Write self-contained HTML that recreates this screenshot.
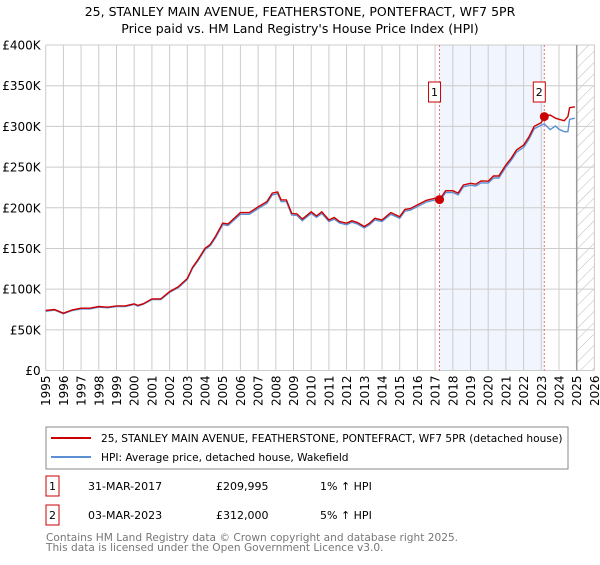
<!DOCTYPE html>
<html><head><meta charset="utf-8"><style>
body{margin:0;background:#fff;font-family:"Liberation Sans","DejaVu Sans",sans-serif;}
svg text{font-family:"DejaVu Sans","Liberation Sans",sans-serif;}
</style></head><body>
<svg id="c" width="600" height="560" viewBox="0 0 600 560" xmlns="http://www.w3.org/2000/svg">
<text x="300" y="16" text-anchor="middle" font-size="12.5" fill="#000">25, STANLEY MAIN AVENUE, FEATHERSTONE, PONTEFRACT, WF7 5PR</text>
<text x="300" y="33" text-anchor="middle" font-size="12.5" fill="#000">Price paid vs. HM Land Registry's House Price Index (HPI)</text>
<defs><pattern id="hatch" width="8" height="8" patternUnits="userSpaceOnUse" patternTransform="rotate(45)"><line x1="0" y1="0" x2="0" y2="8" stroke="#bbb" stroke-width="1"/></pattern></defs>
<g id="grid"></g>
<g id="marks"></g>
<g id="axes"></g>
<rect x="46" y="427" width="522" height="42" fill="#fff" stroke="#888"/>
<line x1="51" y1="438" x2="91" y2="438" stroke="#cc0000" stroke-width="2"/>
<text x="101" y="442" font-size="10.6">25, STANLEY MAIN AVENUE, FEATHERSTONE, PONTEFRACT, WF7 5PR (detached house)</text>
<line x1="51" y1="457" x2="91" y2="457" stroke="#5b8fd4" stroke-width="2"/>
<text x="101" y="461" font-size="10.6">HPI: Average price, detached house, Wakefield</text>
<rect x="46" y="476" width="13" height="20" fill="#fff" stroke="#cc0000"/>
<text x="52.5" y="490" font-size="11" text-anchor="middle">1</text>
<text x="88" y="490" font-size="11">31-MAR-2017</text>
<text x="216" y="490" font-size="11">£209,995</text>
<text x="320" y="490" font-size="11">1% ↑ HPI</text>
<rect x="46" y="505" width="13" height="20" fill="#fff" stroke="#cc0000"/>
<text x="52.5" y="519" font-size="11" text-anchor="middle">2</text>
<text x="88" y="519" font-size="11">03-MAR-2023</text>
<text x="216" y="519" font-size="11">£312,000</text>
<text x="320" y="519" font-size="11">5% ↑ HPI</text>
<text x="46" y="541" font-size="10.6" fill="#777">Contains HM Land Registry data © Crown copyright and database right 2025.</text>
<text x="46" y="551" font-size="10.6" fill="#777">This data is licensed under the Open Government Licence v3.0.</text>
</svg>
<script>
const years=[1995,1996,1997,1998,1999,2000,2001,2002,2003,2004,2005,2006,2007,2008,2009,2010,2011,2012,2013,2014,2015,2016,2017,2018,2019,2020,2021,2022,2023,2024,2025,2026];
const yTicks=[0,50000,100000,150000,200000,250000,300000,350000,400000];
const yTickLabels=["£0","£50K","£100K","£150K","£200K","£250K","£300K","£350K","£400K"];
const dates=[1995.0,1995.5,1996.0,1996.5,1997.0,1997.5,1998.0,1998.5,1999.0,1999.5,2000.0,2000.2,2000.5,2001.0,2001.5,2002.0,2002.5,2003.0,2003.3,2003.6,2004.0,2004.3,2004.6,2005.0,2005.3,2005.6,2006.0,2006.5,2007.0,2007.5,2007.8,2008.1,2008.3,2008.6,2008.9,2009.2,2009.5,2010.0,2010.3,2010.6,2011.0,2011.3,2011.6,2012.0,2012.3,2012.6,2013.0,2013.3,2013.6,2014.0,2014.5,2015.0,2015.3,2015.6,2016.0,2016.5,2017.0,2017.25,2017.6,2018.0,2018.3,2018.6,2019.0,2019.3,2019.6,2020.0,2020.3,2020.6,2021.0,2021.3,2021.6,2022.0,2022.3,2022.6,2023.0,2023.17,2023.5,2023.8,2024.0,2024.3,2024.5,2024.6,2024.9];
const propertyValues=[73700,75000,70400,74500,76500,76500,78600,77800,79400,79400,82000,80000,82000,88000,88000,97000,103000,113000,127000,136000,150000,155000,165000,181000,180000,186000,194000,194000,201000,207600,218000,219500,209600,209600,193000,192400,186000,195000,190000,195000,185000,188000,183000,181000,184000,182000,177000,181000,187000,185000,194000,189000,198000,199000,203500,209000,211700,210000,221000,221000,218000,228000,230000,229000,233000,232600,239000,239000,252600,260800,271000,277000,287000,300000,304600,312800,314000,310000,308700,307000,312000,323000,324000];
const hpiValues=[72800,74200,69700,73700,75700,75700,77800,77000,78600,78600,81200,79200,81200,87100,87100,96000,102000,111900,125700,134600,148500,153400,163300,179200,178200,184100,192000,192000,199000,205500,215800,217300,207500,207500,191100,190500,184100,193000,188100,193000,183100,186100,181200,179200,182200,180200,175200,179200,185100,183100,192000,187100,196000,197000,201400,206900,209600,207900,218800,218800,215800,225700,227700,226700,230700,230300,236600,236600,250100,258200,268300,274200,284100,297000,301600,303000,296000,300500,296400,293500,293500,308700,310000];
const sales=[{d:2017.25,v:209995,n:"1"},{d:2023.17,v:312000,n:"2"}];
const NS="http://www.w3.org/2000/svg";
const X0=45.7,X1=594.4,Y0=370.5,Y1=45;
const xs=d=>X0+(d-1995)/(2026-1995)*(X1-X0);
const ys=v=>Y0-v/400000*(Y0-Y1);
function mk(tag,attrs,parent){const e=document.createElementNS(NS,tag);for(const k in attrs)e.setAttribute(k,attrs[k]);parent.appendChild(e);return e;}
const grid=document.getElementById('grid'),marks=document.getElementById('marks'),axes=document.getElementById('axes');
let sh=mk('rect',{x:xs(sales[0].d),y:Y1,width:xs(sales[1].d)-xs(sales[0].d),height:Y0-Y1,fill:'#eef3fd',opacity:0.8},grid);


let ht=mk('rect',{x:xs(2025.0),y:Y1,width:X1-xs(2025.0),height:Y0-Y1,fill:'url(#hatch)'},grid);


yTicks.forEach((t,i)=>{
 let l=mk('line',{x1:X0,x2:X1,y1:ys(t),y2:ys(t),stroke:'#ccc'},grid);
 
 
 let tx=mk('text',{x:X0-5,y:ys(t)+4.5,'text-anchor':'end','font-size':12},axes);
 tx.textContent=yTickLabels[i];
 
 
});
years.forEach(yr=>{
 let l=mk('line',{x1:xs(yr),x2:xs(yr),y1:Y1,y2:Y0,stroke:'#ccc'},grid);
 
 
 let tx=mk('text',{x:0,y:0,'text-anchor':'end','font-size':12,transform:`translate(${xs(yr)+4.5},${Y0+5}) rotate(-90)`},axes);
 tx.textContent=yr;
 
 
});
let dl=mk('line',{x1:xs(2025.0),x2:xs(2025.0),y1:Y1,y2:Y0,stroke:'#999','stroke-width':1.5},grid);


sales.forEach(s=>{
 let l=mk('line',{x1:xs(s.d),x2:xs(s.d),y1:Y1,y2:Y0,stroke:'#f07070','stroke-dasharray':'2,2'},marks);
 
 
});
function path(vals,col,name){
 let d=dates.map((t,i)=>(i?'L':'M')+xs(t).toFixed(1)+','+ys(vals[i]).toFixed(1)).join('');
 let p=mk('path',{d:d,fill:'none',stroke:col,'stroke-width':1.4},marks);
 
 
}
path(hpiValues,'#5b8fd4','hpi-line');
path(propertyValues,'#cc0000','property-line');
sales.forEach(s=>{
 let c=mk('circle',{cx:xs(s.d),cy:ys(s.v),r:4.5,fill:'#cc0000'},marks);
 
 
 let bx=xs(s.d)-11;
 let r=mk('rect',{x:bx,y:82,width:12,height:20,fill:'#fff',stroke:'#cc0000'},marks);
 
 
 let t=mk('text',{x:bx+6,y:96,'text-anchor':'middle','font-size':11},marks);
 t.textContent=s.n;
 
 
});
</script>
</body></html>
